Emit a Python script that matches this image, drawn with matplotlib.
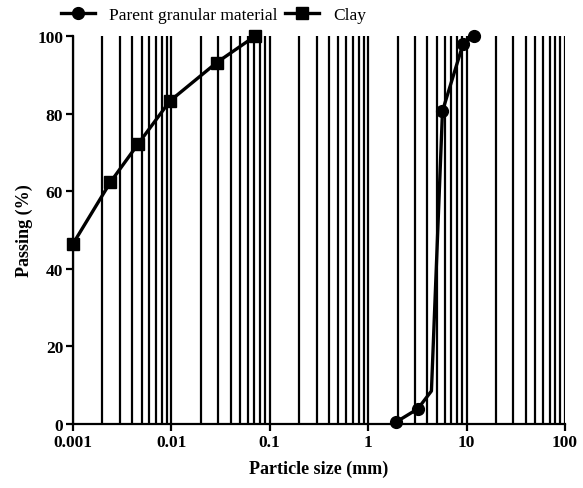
import matplotlib
matplotlib.use("Agg")
import matplotlib.pyplot as plt
from matplotlib.ticker import LogLocator, NullFormatter
import numpy as np

plt.rcParams['font.family'] = ['Liberation Serif', 'DejaVu Serif']
plt.rcParams['font.weight'] = 'bold'

# Data
parent_x = [1.9, 3.2, 4.4, 5.7, 9.2, 11.8]
parent_y = [0.4, 3.9, 8.5, 80.7, 97.9, 100.0]
parent_marker_idx = [0, 1, 3, 4, 5]

clay_x = [0.001, 0.0024, 0.0046, 0.0097, 0.029, 0.071]
clay_y = [46.4, 62.3, 72.2, 83.3, 93.2, 100.0]

xticks = [0.001, 0.01, 0.1, 1, 10, 100]
xticklabels = ['0.001', '0.01', '0.1', '1', '10', '100']
yticks = [0, 20, 40, 60, 80, 100]

fig = plt.figure(figsize=(5.83, 4.89), dpi=100)
ax = fig.add_axes([0.125, 0.131, 0.844, 0.793])

ax.set_xscale('log')
ax.set_xlim(0.001, 100)
ax.set_ylim(0, 100)

ax.xaxis.set_minor_locator(LogLocator(base=10, subs=np.arange(2, 10)))
ax.xaxis.set_minor_formatter(NullFormatter())
ax.set_xticks(xticks)
ax.set_xticklabels(xticklabels)
ax.set_yticks(yticks)

ax.grid(True, which='both', axis='x', color='black', linewidth=1.6)
ax.set_axisbelow(True)

ax.plot(parent_x, parent_y, '-o', color='black', linewidth=2.4, markersize=8.5,
        markevery=parent_marker_idx, clip_on=False, zorder=5,
        label='Parent granular material')
ax.plot(clay_x, clay_y, '-s', color='black', linewidth=2.4, markersize=8.5,
        clip_on=False, zorder=5, label='Clay')

for s in ['top', 'right']:
    ax.spines[s].set_visible(False)
for s in ['left', 'bottom']:
    ax.spines[s].set_linewidth(1.6)

ax.tick_params(axis='both', which='major', direction='out', length=5, width=1.6,
               labelsize=12.5, pad=2)
ax.tick_params(axis='x', which='minor', length=0)

ax.set_xlabel('Particle size (mm)', fontsize=13, fontweight='bold', labelpad=7)
ax.set_ylabel('Passing (%)', fontsize=13, fontweight='bold', labelpad=3)

leg = fig.legend(loc='center', bbox_to_anchor=(0.366, 0.968), ncol=2, frameon=False,
                 prop={'size': 12.5, 'weight': 'normal'},
                 handlelength=2.0, columnspacing=0.4, handletextpad=0.8,
                 borderaxespad=0)

fig.savefig('out.png', dpi=100)
